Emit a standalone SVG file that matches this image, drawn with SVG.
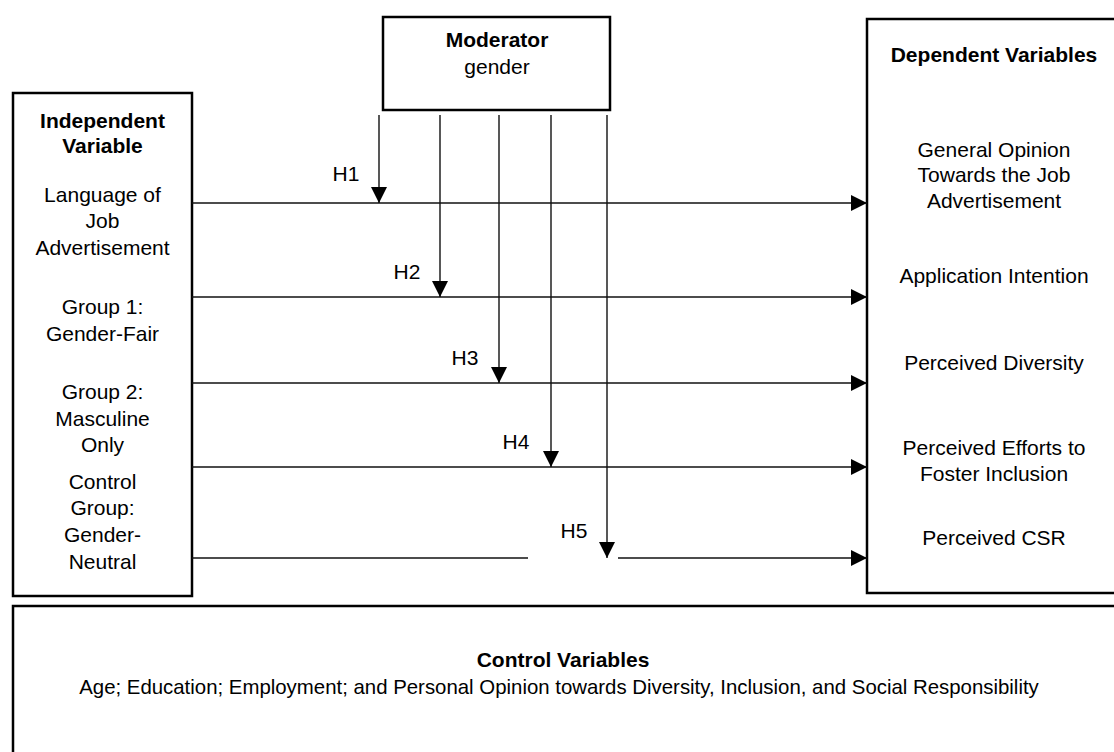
<svg xmlns="http://www.w3.org/2000/svg" width="1114" height="752" viewBox="0 0 1114 752">
<style>
.box{fill:#fff;stroke:#000;stroke-width:2.5}
.ln{stroke:#111;stroke-width:1.4;fill:none}
text{font-family:"Liberation Sans",Arial,sans-serif;font-size:21px;fill:#000;text-anchor:middle}
.b{font-weight:bold}
.sm{font-size:20.4px}
</style>
<defs>
<marker id="ah" markerUnits="userSpaceOnUse" markerWidth="16" markerHeight="16" viewBox="0 0 16 16" refX="16" refY="8" orient="auto">
<path d="M0,0 L16,8 L0,16 Z" fill="#000"/>
</marker>
</defs>
<rect width="1114" height="752" fill="#fff"/>
<g id="moderator">
<rect class="box" x="383" y="17" width="227" height="93"/>
<text class="b" x="497" y="47">Moderator</text>
<text x="497" y="74">gender</text>
</g>
<g id="independent">
<rect class="box" x="13" y="93" width="179" height="503"/>
<text class="b" x="102.5" y="128">Independent</text>
<text class="b" x="102.5" y="153">Variable</text>
<text x="102.5" y="202">Language of</text>
<text x="102.5" y="228">Job</text>
<text x="102.5" y="255">Advertisement</text>
<text x="102.5" y="314">Group 1:</text>
<text x="102.5" y="341">Gender-Fair</text>
<text x="102.5" y="399">Group 2:</text>
<text x="102.5" y="426">Masculine</text>
<text x="102.5" y="452">Only</text>
<text x="102.5" y="489">Control</text>
<text x="102.5" y="515">Group:</text>
<text x="102.5" y="542">Gender-</text>
<text x="102.5" y="569">Neutral</text>
</g>
<g id="dependent">
<rect class="box" x="867" y="19" width="260" height="574"/>
<text class="b" x="994" y="62">Dependent Variables</text>
<text x="994" y="157">General Opinion</text>
<text x="994" y="182">Towards the Job</text>
<text x="994" y="208">Advertisement</text>
<text x="994" y="283">Application Intention</text>
<text x="994" y="370">Perceived Diversity</text>
<text x="994" y="455">Perceived Efforts to</text>
<text x="994" y="481">Foster Inclusion</text>
<text x="994" y="545">Perceived CSR</text>
</g>
<g id="control">
<rect class="box" x="13" y="606" width="1120" height="160"/>
<text class="b" x="563" y="667">Control Variables</text>
<text class="sm" x="559" y="694">Age; Education; Employment; and Personal Opinion towards Diversity, Inclusion, and Social Responsibility</text>
</g>
<g id="connectors">
<line class="ln" x1="192" y1="203" x2="867" y2="203" marker-end="url(#ah)"/>
<line class="ln" x1="192" y1="297" x2="867" y2="297" marker-end="url(#ah)"/>
<line class="ln" x1="192" y1="383" x2="867" y2="383" marker-end="url(#ah)"/>
<line class="ln" x1="192" y1="467" x2="867" y2="467" marker-end="url(#ah)"/>
<line class="ln" x1="192" y1="558" x2="528" y2="558"/>
<line class="ln" x1="618" y1="558" x2="867" y2="558" marker-end="url(#ah)"/>
<line class="ln" x1="379" y1="115" x2="379" y2="203" marker-end="url(#ah)"/>
<line class="ln" x1="440" y1="115" x2="440" y2="297" marker-end="url(#ah)"/>
<line class="ln" x1="499" y1="115" x2="499" y2="383" marker-end="url(#ah)"/>
<line class="ln" x1="551" y1="115" x2="551" y2="467" marker-end="url(#ah)"/>
<line class="ln" x1="607" y1="115" x2="607" y2="558" marker-end="url(#ah)"/>
<text x="346" y="181">H1</text>
<text x="407" y="279">H2</text>
<text x="465" y="365">H3</text>
<text x="516" y="449">H4</text>
<text x="574" y="538">H5</text>
</g>
</svg>
